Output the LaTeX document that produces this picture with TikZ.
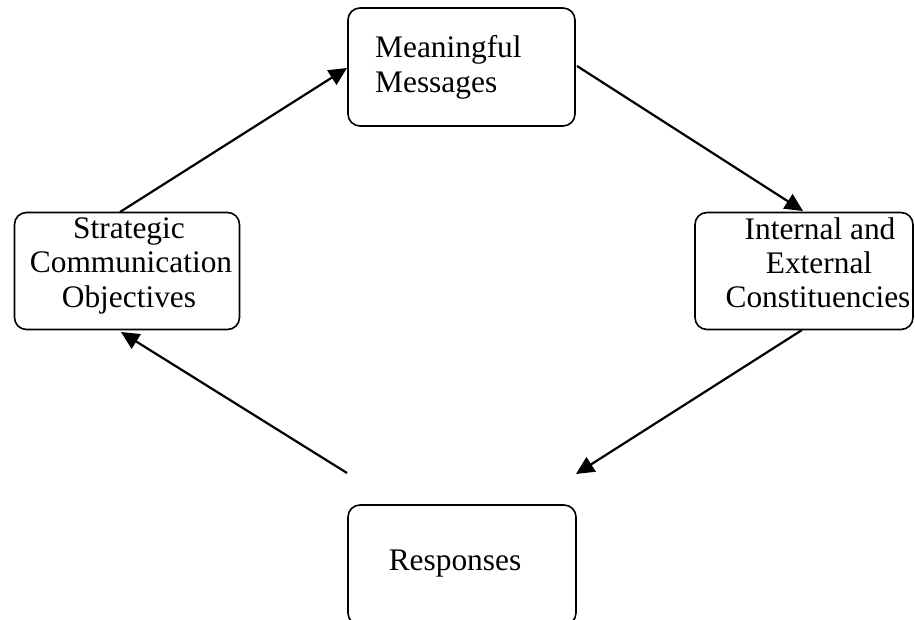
\documentclass[tikz,border=0pt]{standalone}
\usepackage{fontspec}
\setmainfont{Liberation Serif}
\usetikzlibrary{arrows.meta}
\tikzset{
  box/.style={draw, line width=1.6bp, rounded corners=12bp, inner sep=0pt},
  lbl/.style={inner sep=0pt, font=\fontsize{31.5}{35}\selectfont},
  conn/.style={line width=2.2bp, -{Triangle[length=18bp,width=17bp]}}
}
\begin{document}
\begin{tikzpicture}[x=1bp,y=-1bp]
\useasboundingbox (0,0) rectangle (915,620);
\clip (0,0) rectangle (915,620);
% boxes
\node[box, minimum width=227bp, minimum height=118bp] (mm) at (461.5,67) {};
\node[box, minimum width=225bp, minimum height=117bp] (sco) at (127,271) {};
\node[box, minimum width=218bp, minimum height=117bp] (ice) at (804,271) {};
\node[box, minimum width=228bp, minimum height=120bp] (resp) at (462,565) {};
% texts
\node[lbl, anchor=base west] (mm1) at (375,58) {Meaningful};
\node[lbl, anchor=base west] (mm2) at (375,93) {Messages};
\node[lbl, anchor=base] (sco1) at (129,239) {Strategic};
\node[lbl, anchor=base] (sco2) at (131,273) {Communication};
\node[lbl, anchor=base] (sco3) at (129,307) {Objectives};
\node[lbl, anchor=base] (ice1) at (820,240) {Internal and};
\node[lbl, anchor=base] (ice2) at (819,274) {External};
\node[lbl, anchor=base] (ice3) at (818,307) {Constituencies};
\node[lbl, anchor=base] (resp1) at (455,570) {Responses};
% connector endpoints
\coordinate (a1) at (120,212);
\coordinate (a2) at (347,68);
\coordinate (b1) at (577,66);
\coordinate (b2) at (803,211);
\coordinate (c1) at (802,330);
\coordinate (c2) at (576,474);
\coordinate (d1) at (347,473);
\coordinate (d2) at (121,332);
\draw[conn] (a1) -- (a2);
\draw[conn] (b1) -- (b2);
\draw[conn] (c1) -- (c2);
\draw[conn] (d1) -- (d2);
\end{tikzpicture}
\end{document}
